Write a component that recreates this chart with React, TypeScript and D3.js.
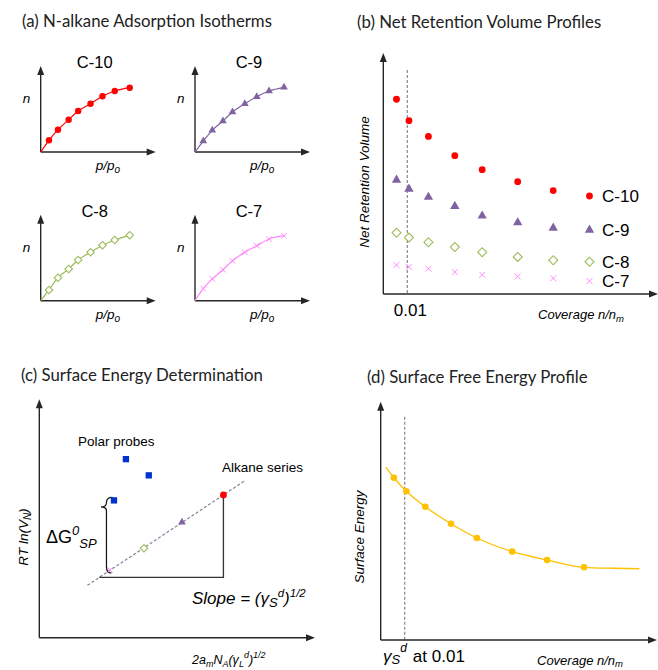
import * as d3 from "d3";

// (a) isotherms: relative pressure and relative uptake for each probe
const pressure = [0.093, 0.194, 0.314, 0.421, 0.56, 0.694, 0.832, 1.0];
const uptakeC10 = [0.18, 0.343, 0.497, 0.631, 0.743, 0.857, 0.938, 0.989];
const uptakeC9 = [0.169, 0.334, 0.477, 0.615, 0.743, 0.851, 0.938, 0.995];
const uptakeC8 = [0.165, 0.354, 0.488, 0.626, 0.745, 0.852, 0.934, 1.006];
const uptakeC7 = [0.185, 0.334, 0.477, 0.615, 0.745, 0.846, 0.949, 1.0];

// (b) net retention volume vs coverage
const coverage = [0.0055, 0.0107, 0.0188, 0.0298, 0.0412, 0.056, 0.0708];
const volumeC10 = [80.8, 71.9, 65.4, 57.4, 51.6, 46.6, 42.9];
const volumeC9 = [47.3, 43.6, 40.2, 36.4, 32.4, 29.6, 27.4];
const volumeC8 = [25.4, 23.4, 21.5, 19.5, 17.3, 15.4, 14.0];
const volumeC7 = [12.0, 11.3, 10.5, 9.1, 8.0, 7.3, 6.5];
const probes = ["C-10", "C-9", "C-8", "C-7"];

// (c) RT ln(VN) vs 2 a N (gammaL)^1/2
const alkaneX = [26.6, 39.4, 53.7, 69.3];
const alkaneY = [28.4, 37.5, 48.4, 59.9];
const polarX = [32.6, 41.2, 28.1];
const polarY = [74.9, 68.1, 57.6];

// (d) surface energy profile
const energyCoverage = [0.0055, 0.0107, 0.0186, 0.0293, 0.0401, 0.0548, 0.0693, 0.0847];
const energy = [68.1, 62.4, 55.9, 48.8, 42.8, 37.1, 33.6, 30.5];
const trendCoverage = [0.0021, 0.0055, 0.0107, 0.0186, 0.0293, 0.0401, 0.0548, 0.0693, 0.0847, 0.0969, 0.1078];
const trendEnergy = [72.5, 68.1, 62.4, 55.9, 48.8, 42.8, 37.1, 33.6, 30.5, 30.1, 29.9];

const RED = "#ff0000";
const PURPLE = "#8064a2";
const GREEN = "#9bbb59";
const PINK = "#ff88ff";
const AXIS = "#262626";
const colors = [RED, PURPLE, GREEN, PINK];

const ARIAL = "Liberation Sans, Arial, sans-serif";
const TITLE = "Lato, Carlito, Calibri, sans-serif";

const tri = (size: number) => d3.symbol(d3.symbolTriangle, size)()!;
const sq = (size: number) => d3.symbol(d3.symbolSquare, size)()!;
const cross = (size: number) => d3.symbol(d3.symbolX, size)()!;

function Marker({ kind, x, y, big }: { kind: number; x: number; y: number; big?: boolean }) {
  const c = colors[kind];
  if (kind === 0) return <circle cx={x} cy={y} r={big ? 3.4 : 3.2} fill={c} />;
  if (kind === 1) return <path d={tri(big ? 38 : 26)} transform={`translate(${x},${y})`} fill={c} />;
  if (kind === 2)
    return (
      <path
        d={sq(big ? 40 : 28)}
        transform={`translate(${x},${y}) rotate(45)`}
        fill="white"
        stroke={c}
        strokeWidth={1.1}
      />
    );
  return <path d={cross(big ? 24 : 22)} transform={`translate(${x},${y})`} stroke={c} strokeWidth={1} fill="none" />;
}

function Axes({ ox, oy, x1, y1, w = 1.4 }: { ox: number; oy: number; x1: number; y1: number; w?: number }) {
  return (
    <g stroke={AXIS} strokeWidth={w}>
      <line x1={ox} y1={oy} x2={x1 - 7} y2={oy} />
      <line x1={ox} y1={oy} x2={ox} y2={y1 + 7} />
      <path d={`M${x1},${oy}L${x1 - 9},${oy - 3.5}L${x1 - 9},${oy + 3.5}Z`} fill={AXIS} stroke="none" />
      <path d={`M${ox},${y1}L${ox - 3.5},${y1 + 9}L${ox + 3.5},${y1 + 9}Z`} fill={AXIS} stroke="none" />
    </g>
  );
}

function Isotherm({ ox, oy, label, uptake, kind }: { ox: number; oy: number; label: string; uptake: number[]; kind: number }) {
  const x = d3.scaleLinear().domain([0, 1]).range([ox, ox + 89]);
  const y = d3.scaleLinear().domain([0, 1]).range([oy, oy - 65]);
  const pts: [number, number][] = [[0, 0], ...pressure.map((p, i) => [p, uptake[i]] as [number, number])];
  const line = d3
    .line<[number, number]>()
    .x((d) => x(d[0]))
    .y((d) => y(d[1]))
    .curve(d3.curveMonotoneX);
  return (
    <g>
      <text x={ox + 54} y={oy - 84} fontSize={16.5} fontFamily={ARIAL} textAnchor="middle">
        {label}
      </text>
      <Axes ox={ox} oy={oy} x1={ox + 115} y1={oy - 86} />
      <path d={line(pts)!} fill="none" stroke={colors[kind]} strokeWidth={1.2} />
      {pressure.map((p, i) => (
        <Marker key={i} kind={kind} x={x(p)} y={y(uptake[i])} />
      ))}
      <text x={ox - 18} y={oy - 49} fontSize={13.5} fontStyle="italic" fontFamily={ARIAL}>
        n
      </text>
      <text x={ox + 55} y={oy + 18} fontSize={13.5} fontStyle="italic" fontFamily={ARIAL}>
        p/p<tspan fontSize={10} dy={3}>o</tspan>
      </text>
    </g>
  );
}

function PanelA() {
  return (
    <g>
      <text x={22} y={27} fontSize={16.8} fontFamily={TITLE} fill="#222">
        (a) N-alkane Adsorption Isotherms
      </text>
      <Isotherm ox={40.7} oy={152} label="C-10" uptake={uptakeC10} kind={0} />
      <Isotherm ox={195} oy={152} label="C-9" uptake={uptakeC9} kind={1} />
      <Isotherm ox={40.7} oy={300.7} label="C-8" uptake={uptakeC8} kind={2} />
      <Isotherm ox={195} oy={300.7} label="C-7" uptake={uptakeC7} kind={3} />
    </g>
  );
}

function PanelB() {
  const ox = 383.3;
  const oy = 294;
  const x = d3.scaleLinear().domain([0, 0.01]).range([ox, ox + 24]);
  const y = d3.scaleLinear().domain([0, 100]).range([oy, 53]);
  const series = [volumeC10, volumeC9, volumeC8, volumeC7];
  const legendY = [196, 230, 261.7, 281];
  return (
    <g>
      <text x={357} y={28} fontSize={16.8} fontFamily={TITLE} fill="#222">
        (b) Net Retention Volume Profiles
      </text>
      <line x1={x(0.01)} x2={x(0.01)} y1={70} y2={oy} stroke="#888" strokeWidth={1.2} strokeDasharray="3,2" />
      <Axes ox={ox} oy={oy} x1={658} y1={53} />
      {series.map((s, k) =>
        s.map((v, i) => <Marker key={`${k}-${i}`} kind={k} x={x(coverage[i])} y={y(v)} big />)
      )}
      {probes.map((p, k) => (
        <g key={p}>
          <Marker kind={k} x={589.5} y={legendY[k]} big />
          <text x={602} y={legendY[k] + 6} fontSize={17} fontFamily={ARIAL}>
            {p}
          </text>
        </g>
      ))}
      <text x={x(0.01) + 3} y={316} fontSize={17} fontFamily={ARIAL} textAnchor="middle">
        0.01
      </text>
      <text x={538} y={319} fontSize={13} fontStyle="italic" fontFamily={ARIAL}>
        Coverage n/n<tspan fontSize={9.5} dy={3}>m</tspan>
      </text>
      <text
        transform={`translate(369,182) rotate(-90)`}
        fontSize={13.5}
        fontStyle="italic"
        fontFamily={ARIAL}
        textAnchor="middle"
      >
        Net Retention Volume
      </text>
    </g>
  );
}

function PanelC() {
  const ox = 39.3;
  const oy = 637.7;
  const x = d3.scaleLinear().domain([0, 100]).range([ox, 305]);
  const y = d3.scaleLinear().domain([0, 100]).range([oy, 399.3]);
  // least-squares line through the alkane points
  const mx = d3.mean(alkaneX)!;
  const my = d3.mean(alkaneY)!;
  const b =
    d3.sum(alkaneX, (v, i) => (v - mx) * (alkaneY[i] - my)) / d3.sum(alkaneX, (v) => (v - mx) * (v - mx));
  const a = my - b * mx;
  const f = (v: number) => a + b * v;
  const baseY = 25.3;
  const baseX = (baseY - a) / b;
  const top = alkaneX[3];
  const bx = x(polarX[2]) - 7.5;
  const bTop = y(polarY[2]) - 3;
  const bBot = y(alkaneY[0]) + 3;
  const bMid = bTop + 9.5;
  return (
    <g>
      <text x={21} y={381} fontSize={16.8} fontFamily={TITLE} fill="#222">
        (c) Surface Energy Determination
      </text>
      <Axes ox={ox} oy={oy} x1={315} y1={399.3} />
      <line x1={x(18.1)} y1={y(f(18.1))} x2={x(77.7)} y2={y(f(77.7))} stroke="#85809a" strokeWidth={1.2} strokeDasharray="3,2" />
      <path
        d={`M${x(baseX)},${y(baseY)}L${x(top)},${y(baseY)}L${x(top)},${y(alkaneY[3])}`}
        fill="none"
        stroke="#333"
        strokeWidth={1.3}
      />
      <path
        d={`M${bx + 6},${bTop} Q${bx},${bTop} ${bx},${bTop + 5} Q${bx},${bMid} ${bx - 5.5},${bMid} Q${bx},${bMid} ${bx},${bMid + 4} L${bx},${bBot - 6} Q${bx},${bBot} ${bx + 5},${bBot}`}
        fill="none"
        stroke="#111"
        strokeWidth={1.2}
      />
      {alkaneX.map((v, i) => (
        <Marker key={i} kind={3 - i} x={x(v)} y={y(alkaneY[i])} big={i === 3} />
      ))}
      {polarX.map((v, i) => (
        <path key={i} d={sq(40)} transform={`translate(${x(v)},${y(polarY[i])})`} fill="#0033cc" />
      ))}
      <text x={78} y={446} fontSize={13.5} fontFamily={ARIAL}>
        Polar probes
      </text>
      <text x={222} y={472} fontSize={13.5} fontFamily={ARIAL}>
        Alkane series
      </text>
      <text x={46} y={543} fontSize={18} fontFamily={ARIAL}>
        ΔG
        <tspan fontStyle="italic" fontSize={13} dy={-8}>
          0
        </tspan>
        <tspan fontStyle="italic" fontSize={13} dy={13}>
          SP
        </tspan>
      </text>
      <text x={192} y={604} fontSize={17} fontStyle="italic" fontFamily={ARIAL}>
        Slope = (γ<tspan fontSize={13} dy={3}>S</tspan>
        <tspan fontSize={11.5} dy={-10}>d</tspan>
        <tspan dy={7}>)</tspan>
        <tspan fontSize={11.5} dy={-7}>1/2</tspan>
      </text>
      <text
        transform={`translate(28,537) rotate(-90)`}
        fontSize={13.5}
        fontStyle="italic"
        fontFamily={ARIAL}
        textAnchor="middle"
      >
        RT ln(V<tspan fontSize={10} dy={3}>N</tspan>
        <tspan dy={-3}>)</tspan>
      </text>
      <text x={192} y={664} fontSize={12.5} fontStyle="italic" fontFamily={ARIAL}>
        2a<tspan fontSize={9} dy={3}>m</tspan>
        <tspan dy={-3}>N</tspan>
        <tspan fontSize={9} dy={3}>A</tspan>
        <tspan dy={-3}>(γ</tspan>
        <tspan fontSize={9} dy={3}>L</tspan>
        <tspan fontSize={9} dy={-9}>d</tspan>
        <tspan dy={6}>)</tspan>
        <tspan fontSize={9} dy={-6}>1/2</tspan>
      </text>
    </g>
  );
}

function PanelD() {
  const ox = 380.7;
  const oy = 640;
  const x = d3.scaleLinear().domain([0, 0.01]).range([ox, ox + 24]);
  const y = d3.scaleLinear().domain([0, 100]).range([oy, 401.7]);
  const line = d3
    .line<number>()
    .x((d) => x(d))
    .y((_, i) => y(trendEnergy[i]))
    .curve(d3.curveMonotoneX);
  return (
    <g>
      <text x={367} y={383} fontSize={16.8} fontFamily={TITLE} fill="#222">
        (d) Surface Free Energy Profile
      </text>
      <line x1={x(0.01)} x2={x(0.01)} y1={416.7} y2={oy} stroke="#888" strokeWidth={1.2} strokeDasharray="3,2" />
      <Axes ox={ox} oy={oy} x1={657} y1={401.7} />
      <path d={line(trendCoverage)!} fill="none" stroke="#ffc000" strokeWidth={1.3} />
      {energyCoverage.map((c, i) => (
        <circle key={i} cx={x(c)} cy={y(energy[i])} r={3.3} fill="#ffc000" />
      ))}
      <text
        transform={`translate(364,537) rotate(-90)`}
        fontSize={13.5}
        fontStyle="italic"
        fontFamily={ARIAL}
        textAnchor="middle"
      >
        Surface Energy
      </text>
      <text x={383} y={662} fontSize={17} fontFamily={ARIAL}>
        <tspan fontStyle="italic">γ</tspan>
        <tspan fontStyle="italic" fontSize={13} dy={2}>S</tspan>
        <tspan fontStyle="italic" fontSize={12} dy={-12}>d</tspan>
        <tspan dy={10} dx={6}>at 0.01</tspan>
      </text>
      <text x={537} y={665} fontSize={13} fontStyle="italic" fontFamily={ARIAL}>
        Coverage n/n<tspan fontSize={9.5} dy={2}>m</tspan>
      </text>
    </g>
  );
}

export default function App() {
  return (
    <svg
      width={658}
      height={670}
      viewBox="0 0 658 670"
      style={{ position: "absolute", left: 0, top: 0, background: "white" }}
    >
      <rect width={658} height={670} fill="white" />
      <PanelA />
      <PanelB />
      <PanelC />
      <PanelD />
    </svg>
  );
}
